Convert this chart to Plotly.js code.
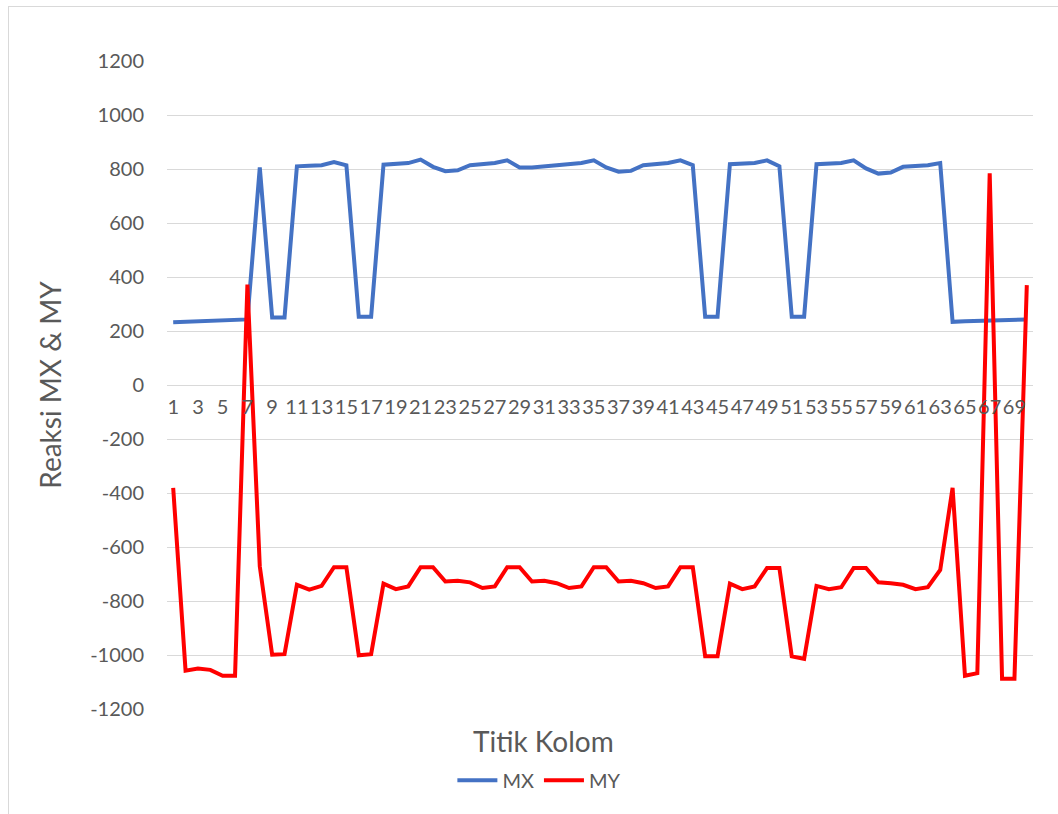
<!DOCTYPE html>
<html>
<head>
<meta charset="utf-8">
<script src="https://cdn.plot.ly/plotly-3.0.1.min.js"></script>
<style>
  html, body { margin: 0; padding: 0; background: #fff; }
  #frame { position: absolute; left: 8px; top: 6px; width: 1100px; height: 900px;
           border-top: 1px solid #d9d9d9; border-left: 1px solid #d9d9d9; pointer-events: none; }
  #chart { position: absolute; left: 0; top: 0; width: 1058px; height: 814px; }
</style>
</head>
<body>
<div id="chart"></div>
<div id="frame"></div>
<script>
// Column points (categories)
const titik = [];
for (let i = 1; i <= 70; i++) titik.push(i);

const MX = [
  232, 234, 236, 238, 239, 241, 243, 806, 250, 250,
  810, 812, 814, 826, 814, 253, 253, 816, 818, 822,
  835, 808, 792, 795, 814, 818, 822, 832, 806, 806,
  810, 814, 818, 822, 832, 806, 790, 793, 814, 818,
  822, 832, 814, 253, 253, 818, 820, 822, 832, 810,
  253, 253, 818, 820, 822, 832, 802, 783, 787, 808,
  812, 814, 822, 234, 236, 238, 240, 241, 242, 243
];

const MY = [
  -381, -1058, -1050, -1055, -1077, -1077, 372, -672, -999, -997,
  -740, -758, -744, -675, -675, -1001, -997, -736, -756, -746,
  -675, -675, -728, -725, -731, -752, -746, -675, -675, -728,
  -725, -734, -752, -746, -675, -675, -728, -725, -734, -752,
  -746, -675, -675, -1005, -1005, -736, -756, -746, -678, -678,
  -1005, -1014, -744, -756, -749, -678, -678, -731, -734, -740,
  -756, -749, -685, -381, -1077, -1067, 784, -1088, -1088, 370
];

const xTickVals = titik.filter(v => v % 2 === 1);
const xTickText = xTickVals.map(String);

const yTickVals = [-1200, -1000, -800, -600, -400, -200, 0, 200, 400, 600, 800, 1000, 1200];
const yTickText = yTickVals.map(String);

const FONT = "Lato, 'Open Sans', sans-serif";
const GREY = "#595959";

const traces = [
  { x: titik, y: MX, name: "MX", type: "scatter", mode: "lines",
    line: { color: "#4472C4", width: 4 } },
  { x: titik, y: MY, name: "MY", type: "scatter", mode: "lines",
    line: { color: "#FF0000", width: 4 } }
];

const layout = {
  width: 1058, height: 814,
  margin: { l: 167, r: 25, t: 61, b: 105 },
  paper_bgcolor: "#fff", plot_bgcolor: "#fff",
  font: { family: FONT, color: GREY, size: 20 },
  showlegend: true,
  legend: { orientation: "h", x: 0.43, xanchor: "center", y: -0.11, yanchor: "middle",
            font: { family: FONT, size: 20, color: GREY }, itemwidth: 40 },
  xaxis: {
    range: [0.5, 70.5], tickmode: "array", tickvals: xTickVals, ticktext: xTickText,
    anchor: "free", position: 0.5, showgrid: false, zeroline: false, showline: false,
    ticks: "", ticklabelstandoff: 8, tickangle: 0,
    tickfont: { family: FONT, size: 20, color: GREY }
  },
  yaxis: {
    range: [-1200, 1200], tickmode: "array", tickvals: yTickVals, ticktext: yTickText,
    showgrid: true, gridcolor: "#d9d9d9", gridwidth: 1,
    zeroline: true, zerolinecolor: "#d9d9d9", zerolinewidth: 1, showline: false, ticks: "",
    ticklabelstandoff: 22,
    tickfont: { family: FONT, size: 20, color: GREY },
    title: { text: "Reaksi MX & MY", font: { family: FONT, size: 28, color: GREY }, standoff: 20 }
  },
  annotations: [
    { text: "Titik Kolom", xref: "paper", yref: "paper", x: 0.435, y: -0.05, xanchor: "center",
      yanchor: "middle", showarrow: false, font: { family: FONT, size: 28, color: GREY } }
  ]
};

Plotly.newPlot("chart", traces, layout, { displayModeBar: false, staticPlot: true });
</script>
</body>
</html>
